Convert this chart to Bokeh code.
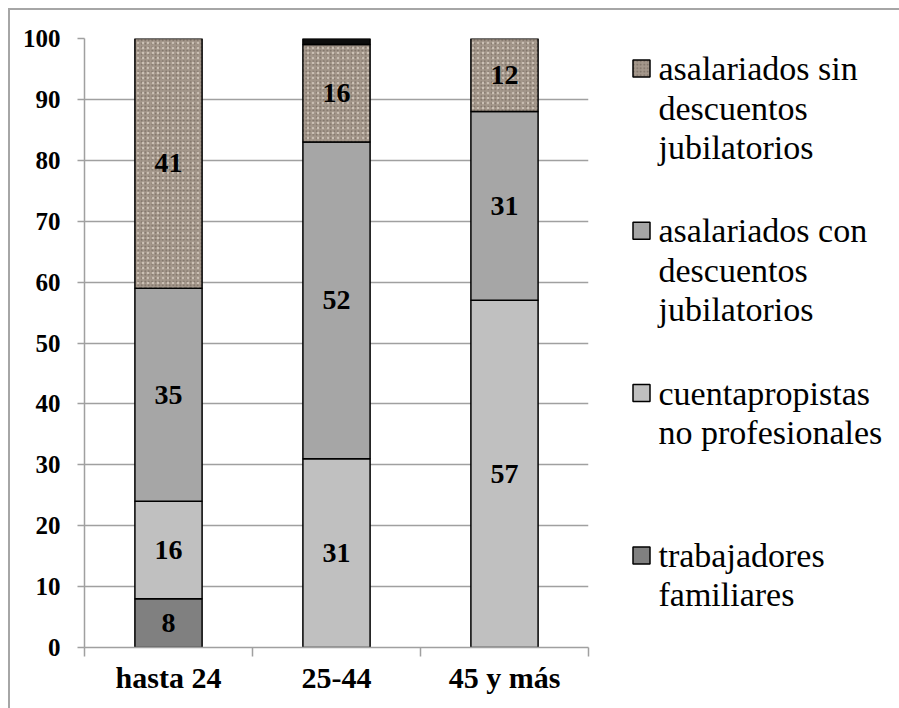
from bokeh.plotting import figure
from bokeh.models import ColumnDataSource, Range1d, FixedTicker
from bokeh.layouts import row
from bokeh.embed import file_html
from bokeh.resources import INLINE
from bokeh.core.properties import value

# ---------------- data ----------------
categories = ["hasta 24", "25-44", "45 y más"]
trabajadores_familiares = [8, 0, 0]
cuentapropistas = [16, 31, 57]
asalariados_con = [35, 52, 31]
asalariados_sin = [41, 16, 12]
sin_dato = [0, 1, 0]
y_ticks = [0, 10, 20, 30, 40, 50, 60, 70, 80, 90, 100]

series_names = ["trabajadores familiares", "cuentapropistas no profesionales",
                "asalariados con descuentos jubilatorios",
                "asalariados sin descuentos jubilatorios", "sin dato"]
series_values = [trabajadores_familiares, cuentapropistas, asalariados_con,
                 asalariados_sin, sin_dato]
series_colors = ["#808080", "#c0c0c0", "#a6a6a6", "#a4978b", "#0d0d0d"]
series_labeled = [True, True, True, True, False]
legend_lines = [["trabajadores", "familiares"],
                ["cuentapropistas", "no profesionales"],
                ["asalariados con", "descuentos", "jubilatorios"],
                ["asalariados sin", "descuentos", "jubilatorios"]]
legend_order = [3, 2, 1, 0]

FONT = "Liberation Serif"
GRID = "#a0a0a0"
TEXTURE = 3
DARK_SPECK = dict(hatch_pattern=".", hatch_color="#54493f", hatch_alpha=0.55,
                  hatch_scale=3.5, hatch_weight=1.5)
LIGHT_SPECK = dict(hatch_pattern=".", hatch_color="#ddd3c8", hatch_alpha=0.7,
                   hatch_scale=5, hatch_weight=1.5)

# ---------------- main chart ----------------
MW, MH = 590, 698
B_LEFT, B_RIGHT, B_TOP, B_BOTTOM = 74, 12, 28, 61
OFF = 10  # page offset of the layout (margin + border)
p = figure(width=MW, height=MH, x_range=Range1d(0, 3), y_range=Range1d(0, 100),
           toolbar_location=None, output_backend="svg",
           min_border_left=B_LEFT, min_border_right=B_RIGHT, min_border_top=B_TOP,
           min_border_bottom=B_BOTTOM)
p.outline_line_color = None
p.background_fill_color = "white"
p.border_fill_color = "white"
p.xgrid.visible = False
p.ygrid.ticker = FixedTicker(ticks=y_ticks)
p.ygrid.grid_line_color = GRID
p.ygrid.grid_line_width = 1.5

p.yaxis.ticker = FixedTicker(ticks=y_ticks, minor_ticks=[])
p.yaxis.axis_line_color = GRID
p.yaxis.axis_line_width = 1.5
p.yaxis.major_tick_line_color = GRID
p.yaxis.major_tick_line_width = 1.5
p.yaxis.major_tick_out = 7
p.yaxis.major_tick_in = 0
p.yaxis.minor_tick_line_color = None
p.yaxis.major_label_text_font = FONT
p.yaxis.major_label_text_font_size = "25px"
p.yaxis.major_label_text_font_style = "bold"
p.yaxis.major_label_text_color = "black"
p.yaxis.major_label_standoff = 17

xs = [i + 0.5 for i in range(len(categories))]
p.xaxis.ticker = FixedTicker(ticks=xs, minor_ticks=list(range(len(categories) + 1)))
p.xaxis.major_label_overrides = {x: c for x, c in zip(xs, categories)}
p.xaxis.axis_line_color = GRID
p.xaxis.axis_line_width = 1.5
p.xaxis.major_tick_line_color = None
p.xaxis.major_tick_out = 0
p.xaxis.major_tick_in = 0
p.xaxis.minor_tick_line_color = GRID
p.xaxis.minor_tick_line_width = 1.5
p.xaxis.minor_tick_out = 9
p.xaxis.minor_tick_in = 0
p.xaxis.major_label_text_font = FONT
p.xaxis.major_label_text_font_size = "30px"
p.xaxis.major_label_text_font_style = "bold"
p.xaxis.major_label_text_color = "black"
p.xaxis.major_label_standoff = 4

bottoms = [0.0] * len(categories)
label_x, label_y, label_t = [], [], []
for name, vals, color, labeled in zip(series_names, series_values, series_colors, series_labeled):
    bx, bb, bt = [], [], []
    for i, v in enumerate(vals):
        if v > 0:
            bx.append(xs[i]); bb.append(bottoms[i]); bt.append(bottoms[i] + v)
            if labeled:
                label_x.append(xs[i]); label_y.append(bottoms[i] + v / 2.0)
                label_t.append(str(v))
        bottoms[i] += v
    src = ColumnDataSource(dict(x=bx, bottom=bb, top=bt))
    if name == series_names[TEXTURE]:
        p.vbar(x="x", bottom="bottom", top="top", width=0.4, source=src,
               fill_color=color, line_color=None, **DARK_SPECK)
        p.vbar(x="x", bottom="bottom", top="top", width=0.4, source=src,
               fill_color=None, line_color="black", line_width=1.5, **LIGHT_SPECK)
    else:
        p.vbar(x="x", bottom="bottom", top="top", width=0.4, source=src,
               fill_color=color, line_color="black", line_width=1.5)

lsrc = ColumnDataSource(dict(x=label_x, y=label_y, t=label_t))
p.text(x="x", y="y", text="t", source=lsrc, text_align="center",
       text_baseline="middle", text_font=value(FONT), text_font_style="bold",
       text_font_size="28px", text_color="black")

# ---------------- legend panel (same frame rows as the chart) ----------------
LW, LH = 889 - MW, MH
frame_top = OFF + B_TOP
frame_bottom = OFF + MH - B_BOTTOM
lf = figure(width=LW, height=LH, x_range=Range1d(0, LW),
            y_range=Range1d(frame_bottom, frame_top),
            toolbar_location=None, output_backend="svg",
            min_border_left=0, min_border_right=0,
            min_border_top=B_TOP, min_border_bottom=B_BOTTOM,
            x_axis_location=None, y_axis_location=None, title=None)
lf.outline_line_color = None
lf.grid.visible = False
lf.border_fill_color = "white"
lf.background_fill_color = "white"

item_center0 = 68
item_pitch = 162.3
line_gap = 39.5
tx, ty, tt = [], [], []
for k, si in enumerate(legend_order):
    c0 = item_center0 + k * item_pitch
    for j, line in enumerate(legend_lines[si]):
        tx.append(58); ty.append(c0 + j * line_gap); tt.append(line)
    sq = ColumnDataSource(dict(x=[41], y=[c0]))
    if si == TEXTURE:
        lf.rect(x="x", y="y", width=17, height=17, width_units="screen",
                height_units="screen", source=sq,
                fill_color=series_colors[si], line_color="black", line_width=1.5,
                **DARK_SPECK)
    else:
        lf.rect(x="x", y="y", width=17, height=17, width_units="screen",
                height_units="screen", source=sq,
                fill_color=series_colors[si], line_color="black", line_width=1.5)

lf.text(x="x", y="y", text="t", source=ColumnDataSource(dict(x=tx, y=ty, t=tt)),
        text_align="left", text_baseline="middle", text_font=value(FONT),
        text_font_size="34px", text_color="black")

layout = row(p, lf)
layout.styles = {"margin-left": "8px", "margin-top": "8px",
                 "border-top": "2px solid #a6a6a6", "border-left": "2px solid #a6a6a6"}

open("out.html", "w").write(file_html(layout, INLINE))
